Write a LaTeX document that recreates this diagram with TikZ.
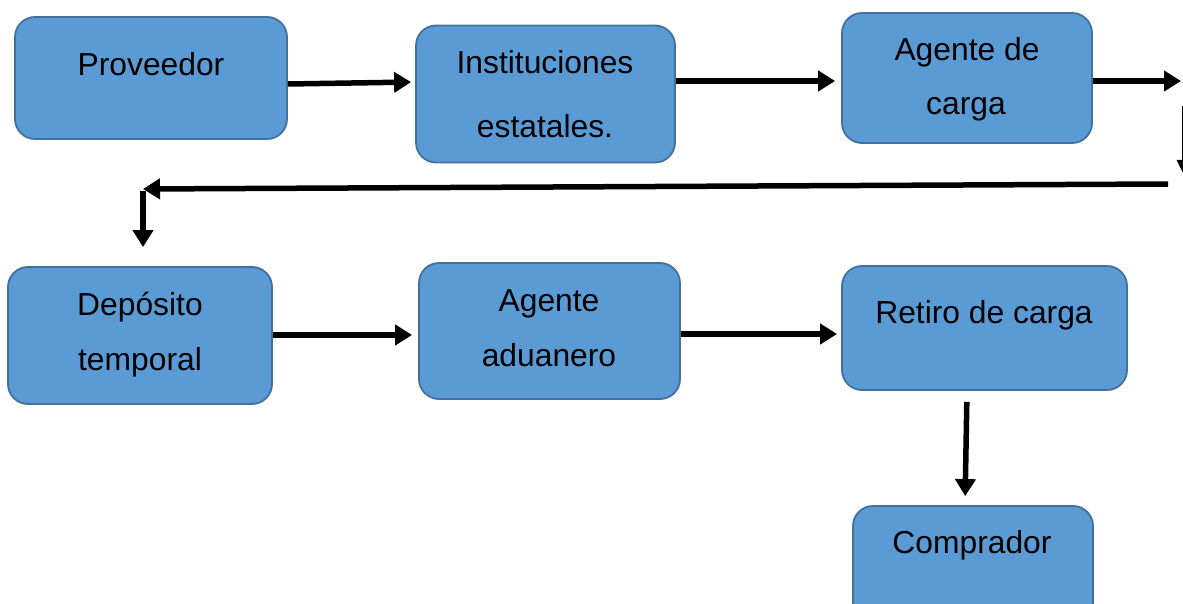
\documentclass[tikz,border=0pt]{standalone}
\usepackage{fontspec}
\setmainfont{Liberation Sans}
\usetikzlibrary{arrows.meta}
\definecolor{boxfill}{HTML}{5B9BD5}
\definecolor{boxline}{HTML}{41719C}
\tikzset{
  box/.style={draw=boxline, fill=boxfill, line width=1.8pt, rounded corners=20pt, inner sep=0pt},
  lbl/.style={anchor=base, inner sep=0pt, font=\fontsize{31.8}{36}\selectfont, text=black},
  arr/.style={line width=5.5pt, -{Triangle[length=17pt,width=20pt]}}
}
\begin{document}
\begin{tikzpicture}[x=1pt,y=-1pt]
\useasboundingbox (0,0) rectangle (1183,604);
\clip (0,0) rectangle (1183,604);
% boxes
\node[box, minimum width=272pt, minimum height=122pt] (prov) at (151,78) {};
\node[box, minimum width=259pt, minimum height=137pt] (inst) at (545.5,94) {};
\node[box, minimum width=250pt, minimum height=130pt] (agc) at (967,78) {};
\node[box, minimum width=264pt, minimum height=137pt] (dep) at (140,335.5) {};
\node[box, minimum width=261pt, minimum height=136pt] (adu) at (549.5,331) {};
\node[box, minimum width=285pt, minimum height=124pt] (ret) at (984.5,328) {};
\node[box, minimum width=240pt, minimum height=130pt] (comp) at (973,571) {};
% labels
\node[lbl] (provT) at (151,76) {Proveedor};
\node[lbl] (instT1) at (545,74) {Instituciones};
\node[lbl] (instT2) at (545,138) {estatales.};
\node[lbl] (agcT1) at (967,61) {Agente de};
\node[lbl] (agcT2) at (966,115) {carga};
\node[lbl] (depT1) at (140,315) {Depósito};
\node[lbl] (depT2) at (140,370) {temporal};
\node[lbl] (aduT1) at (549,311) {Agente};
\node[lbl] (aduT2) at (549,366) {aduanero};
\node[lbl] (retT) at (984,323) {Retiro de carga};
\node[lbl] (compT) at (972,553) {Comprador};
% free ends
\coordinate (c1) at (1181,81);
\coordinate (c2) at (1182.5,106);
\coordinate (c3) at (1185.5,178);
\coordinate (c4) at (1168,184);
\coordinate (c5) at (143,189);
\coordinate (c6) at (143,191);
% connectors
\draw[arr, shorten >=4pt] (prov.east |- 0,84) -- (inst.west |- 0,82);
\draw[arr, shorten >=6pt] (inst.east |- 0,81) -- (agc.west |- 0,81);
\draw[arr] (agc.east |- 0,81) -- (c1);
\draw[line width=2pt] (c2) -- (1182.5,165);
\fill (1176.5,160) -- (1194.5,160) -- (c3) -- cycle;
\draw[arr] (c4) -- (c5);
\draw[arr, shorten >=19pt] (c6) -- (dep.north -| c6);
\draw[arr, shorten >=6pt] (dep.east |- 0,335) -- (adu.west |- 0,335);
\draw[arr, shorten >=4pt] (adu.east |- 0,334) -- (ret.west |- 0,334);
\draw[arr, shorten <=11pt, shorten >=9pt] (ret.south -| 967,0) -- (comp.north -| 965,0);
\end{tikzpicture}
\end{document}
